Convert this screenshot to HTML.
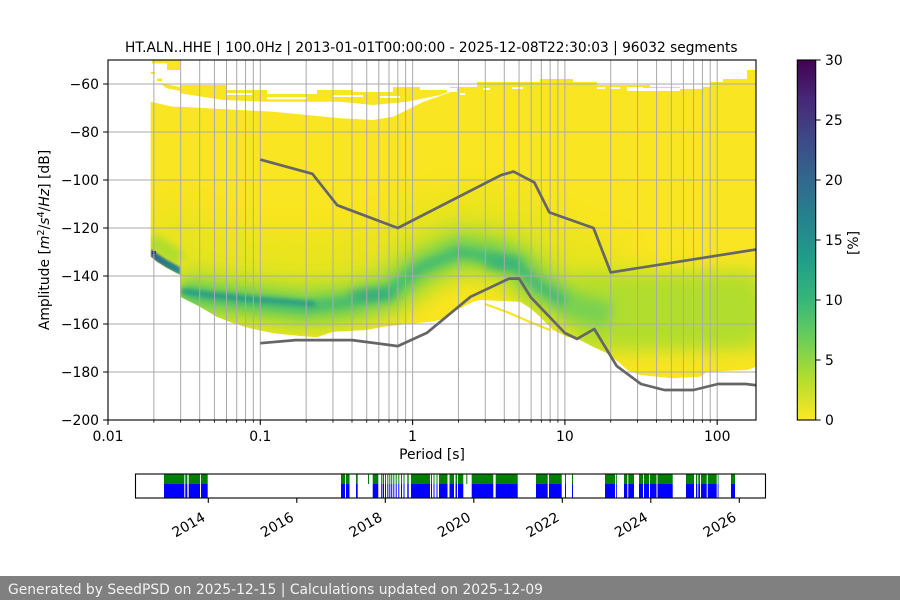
<!DOCTYPE html>
<html><head><meta charset="utf-8"><style>
html,body{margin:0;padding:0;background:#fff;width:900px;height:600px;overflow:hidden}
svg{display:block}
text{font-family:"DejaVu Sans","Liberation Sans",sans-serif;fill:#000}
</style></head><body>
<svg width="900" height="600" viewBox="0 0 900 600" xmlns="http://www.w3.org/2000/svg">
<defs>
<clipPath id="env"><polygon points="150.7,101.7 173,106.7 180,106.7 180,85 227,85 227,90 267,90 267,94 317,94 317,90 353,90 353,92 393,92 393,87 420,87 420,90 450,90 450,87 477,87 477,82 540,82 540,79 573,79 573,82 597,82 597,85 650,85 650,87 710,87 710,82 723,82 723,79 747,79 747,70 756,70 756,366.7 747,370 707,371.7 700,376.7 673,378.3 640,375 627,370 620,363.3 607,353.3 593,346.7 580,340 567,336.7 553,330 540,316.7 530,308 520,301.7 480,300 473,301.7 456.7,310 440,320 430,321.7 400,325 383.3,326.7 366.7,330 333.3,331.7 316.7,337.3 300,336 273.3,333.3 250,328.3 233.3,323.3 216.7,316.7 200,306.7 186.7,300 180,296.7 180,275 166.7,268 156.7,261.7 150.7,256.7"/></clipPath>
<clipPath id="ax"><rect x="108" y="60" width="648" height="360"/></clipPath>
<filter id="f1" filterUnits="userSpaceOnUse" x="0" y="0" width="900" height="600"><feGaussianBlur stdDeviation="1"/></filter>
<filter id="f2" filterUnits="userSpaceOnUse" x="0" y="0" width="900" height="600"><feGaussianBlur stdDeviation="2"/></filter>
<filter id="f4" filterUnits="userSpaceOnUse" x="0" y="0" width="900" height="600"><feGaussianBlur stdDeviation="4"/></filter>
<filter id="f6" filterUnits="userSpaceOnUse" x="0" y="0" width="900" height="600"><feGaussianBlur stdDeviation="6"/></filter>
<filter id="f10" filterUnits="userSpaceOnUse" x="0" y="0" width="900" height="600"><feGaussianBlur stdDeviation="10"/></filter>
<filter id="f16" filterUnits="userSpaceOnUse" x="0" y="0" width="900" height="600"><feGaussianBlur stdDeviation="16"/></filter>
<linearGradient id="cb" x1="0" y1="0" x2="0" y2="1">
<stop offset="0" stop-color="#440154"/><stop offset="0.111" stop-color="#482878"/><stop offset="0.222" stop-color="#3e4989"/><stop offset="0.333" stop-color="#31688e"/><stop offset="0.444" stop-color="#26828e"/><stop offset="0.556" stop-color="#1f9e89"/><stop offset="0.667" stop-color="#35b779"/><stop offset="0.778" stop-color="#6ece58"/><stop offset="0.889" stop-color="#b5de2b"/><stop offset="1" stop-color="#fde725"/>
</linearGradient>
<linearGradient id="ls" x1="0" y1="0" x2="1" y2="0">
<stop offset="0" stop-color="#3b528b"/><stop offset="0.3" stop-color="#2c718e"/><stop offset="1" stop-color="#2a8a8c"/>
</linearGradient>
</defs>

<!-- Title -->
<text x="125" y="52" font-size="13.9" textLength="612.5" lengthAdjust="spacingAndGlyphs">HT.ALN..HHE | 100.0Hz | 2013-01-01T00:00:00 - 2025-12-08T22:30:03 | 96032 segments</text>

<!-- Heatmap -->
<g clip-path="url(#env)">
  <rect x="100" y="60" width="660" height="330" fill="#f9e521"/>
  <path d="M150,232 L200,258 L260,270 L330,272 L385,262 L420,242 L460,228 L500,232 L540,252 L580,272 L620,280" stroke="#e2e41b" stroke-width="70" fill="none" opacity="0.8" filter="url(#f16)"/>
  <path d="M575,312 L760,310" stroke="#b5de2b" stroke-width="78" fill="none" filter="url(#f10)"/>
  <path d="M151,240 L180,260" stroke="#b0dd2f" stroke-width="16" fill="none" filter="url(#f4)"/>
  <path d="M181,292 L220,298 L266,303 L305,307 L350,303 L390,292 L420,268 L459,250 L490,254 L517,263 L536,283 L575,307 L620,312 L700,312 L760,310" stroke="#b0dd2f" stroke-width="50" fill="none" filter="url(#f10)"/>
  <path d="M181,292 L220,298 L266,303 L305,307 L350,303 L390,292 L420,268 L459,250 L490,254 L517,263 L536,283 L575,307 L610,315" stroke="#7ad151" stroke-width="26" fill="none" filter="url(#f6)"/>
  <path d="M183,292 L220,298 L266,303 L305,307 L350,302 L390,291 L420,268 L459,252 L490,257 L517,266 L536,284 L565,302" stroke="#42bb72" stroke-width="11" fill="none" opacity="0.9" filter="url(#f4)"/>
  <ellipse cx="372" cy="295" rx="24" ry="6" fill="#2fa883" opacity="0.7" filter="url(#f4)"/>
  <ellipse cx="503" cy="263" rx="20" ry="8" fill="#35b47a" opacity="0.7" filter="url(#f4)"/>
  <path d="M181,291 L210,295 L250,299 L290,302 L315,304" stroke="#23978a" stroke-width="5" fill="none" opacity="0.9" filter="url(#f2)"/>
  <polygon points="150.7,249 157,253.5 167,260 180,267 180,275 166.7,268 156.7,261.7 150.7,256.7" fill="url(#ls)" filter="url(#f1)"/>
  <rect x="152" y="251" width="4" height="3" fill="#2d3f6b"/>
  <!-- white gap -->
  <polygon points="180,93.3 223,100 267,101.7 340,101.7 373,105 407,101.7 440,95 456,89 456,90 440,96 423,102 407,110 393,116.7 373,120 340,118.3 307,115 273,111.7 240,110 207,108.3 180,106.7" fill="#fff"/>
  <g fill="#fff">
    <rect x="227" y="93" width="25" height="2"/><rect x="240" y="88" width="18" height="2"/>
    <rect x="267" y="97" width="40" height="2.3"/><rect x="333" y="95" width="30" height="2"/>
    <rect x="380" y="96" width="20" height="2"/><rect x="447" y="88" width="10" height="4"/>
    <rect x="460" y="93" width="5" height="2"/><rect x="483" y="88" width="7" height="2"/>
    <rect x="512" y="87" width="11" height="2"/><rect x="597" y="87" width="8" height="2"/>
    <rect x="610" y="87" width="10" height="2"/><rect x="627" y="87" width="16" height="4"/>
    <rect x="643" y="88" width="37" height="3"/><rect x="680" y="87" width="23" height="2"/>
  </g>
</g>
<!-- streak and fragments -->
<path d="M485,304 L507,312 L530,322 L550,330" stroke="#f9e521" stroke-width="2.2" fill="none"/>
<g fill="#f9e521">
  <rect x="152" y="60.5" width="28" height="3"/><rect x="167" y="60.5" width="13" height="9.5"/>
  <rect x="151" y="72" width="4" height="2"/><rect x="157" y="78.5" width="5" height="2.5"/>
  <polygon points="160,83 180,87 180,91 166,88"/>
</g>

<!-- Grid -->
<g stroke="#aaaaaa" stroke-width="1" fill="none">
  <path d="M108,84H756M108,132H756M108,180H756M108,228H756M108,276H756M108,324H756M108,372H756"/>
  <path d="M153.85,60V420M180.67,60V420M199.69,60V420M214.45,60V420M226.51,60V420M236.71,60V420M245.54,60V420M253.33,60V420M260.3,60V420M306.15,60V420M332.97,60V420M351.99,60V420M366.75,60V420M378.81,60V420M389.01,60V420M397.84,60V420M405.63,60V420M412.6,60V420M458.45,60V420M485.27,60V420M504.29,60V420M519.05,60V420M531.11,60V420M541.31,60V420M550.14,60V420M557.93,60V420M564.9,60V420M610.75,60V420M637.57,60V420M656.59,60V420M671.35,60V420M683.41,60V420M693.61,60V420M702.44,60V420M710.23,60V420M717.2,60V420"/>
</g>

<!-- Noise models -->
<g clip-path="url(#ax)" stroke="#666666" stroke-width="2.7" fill="none" stroke-linejoin="round">
  <polyline points="260.3,343.2 295.4,340.1 352.0,340.1 397.8,346.1 426.8,332.9 470.5,296.8 509.1,278.6 519.1,278.6 531.1,297.6 564.9,333.0 577.0,338.9 594.3,329.0 616.7,366.0 641.0,384 664.4,390 693.6,390 717.9,384 745.8,384 796,390"/>
  <polyline points="260.3,159.6 312.4,173.8 337.2,205.2 397.8,228 500.9,175.2 513.5,171.6 534.3,182.4 549.3,212.4 593.5,228 610.7,272.4 801,242.4"/>
</g>

<!-- Axes frame -->
<rect x="108" y="60" width="648" height="360" fill="none" stroke="#000" stroke-width="1.1"/>
<g stroke="#000" stroke-width="1.1">
  <path d="M108,420V424.9M260.3,420V424.9M412.6,420V424.9M564.9,420V424.9M717.2,420V424.9"/>
  <path d="M103.1,84H108M103.1,132H108M103.1,180H108M103.1,228H108M103.1,276H108M103.1,324H108M103.1,372H108M103.1,420H108"/>
</g>
<g stroke="#000" stroke-width="0.8">
  <path d="M153.85,420V422.8M180.67,420V422.8M199.69,420V422.8M214.45,420V422.8M226.51,420V422.8M236.71,420V422.8M245.54,420V422.8M253.33,420V422.8M306.15,420V422.8M332.97,420V422.8M351.99,420V422.8M366.75,420V422.8M378.81,420V422.8M389.01,420V422.8M397.84,420V422.8M405.63,420V422.8M458.45,420V422.8M485.27,420V422.8M504.29,420V422.8M519.05,420V422.8M531.11,420V422.8M541.31,420V422.8M550.14,420V422.8M557.93,420V422.8M610.75,420V422.8M637.57,420V422.8M656.59,420V422.8M671.35,420V422.8M683.41,420V422.8M693.61,420V422.8M702.44,420V422.8M710.23,420V422.8"/>
</g>
<g font-size="13.9" text-anchor="middle">
  <text x="108" y="441">0.01</text><text x="260.3" y="441">0.1</text><text x="412.6" y="441">1</text><text x="564.9" y="441">10</text><text x="717.2" y="441">100</text>
  <text x="432" y="459">Period [s]</text>
</g>
<g font-size="13.9" text-anchor="end">
  <text x="99" y="89">−60</text><text x="99" y="137">−80</text><text x="99" y="185">−100</text><text x="99" y="233">−120</text><text x="99" y="281">−140</text><text x="99" y="329">−160</text><text x="99" y="377">−180</text><text x="99" y="425">−200</text>
</g>
<text transform="translate(49,240) rotate(-90)" font-size="13.9" text-anchor="middle">Amplitude [<tspan font-style="italic">m</tspan><tspan font-size="9.7" dy="-5">2</tspan><tspan dy="5">/</tspan><tspan font-style="italic">s</tspan><tspan font-size="9.7" dy="-5">4</tspan><tspan dy="5">/</tspan><tspan font-style="italic">Hz</tspan>] [dB]</text>

<!-- Colorbar -->
<rect x="797.3" y="60" width="18.4" height="360" fill="url(#cb)" stroke="#000" stroke-width="1.1"/>
<g stroke="#000" stroke-width="1.1"><path d="M815.7,60H820.6M815.7,120H820.6M815.7,180H820.6M815.7,240H820.6M815.7,300H820.6M815.7,360H820.6M815.7,420H820.6"/></g>
<g font-size="13.9">
  <text x="825" y="65">30</text><text x="825" y="125">25</text><text x="825" y="185">20</text><text x="825" y="245">15</text><text x="825" y="305">10</text><text x="825" y="365">5</text><text x="825" y="425">0</text>
</g>
<text transform="translate(858,243) rotate(-90)" font-size="13.9" text-anchor="middle">[%]</text>

<!-- Timeline -->
<g fill="#008000">
<rect x="164" y="474" width="20.3" height="10"/><rect x="185.3" y="474" width="2" height="10"/><rect x="188.7" y="474" width="11.3" height="10"/><rect x="201" y="474" width="6.7" height="10"/>
<rect x="341" y="474" width="4" height="10"/><rect x="346" y="474" width="3.5" height="10"/><rect x="356" y="474" width="1.7" height="10"/><rect x="368" y="474" width="1" height="10"/><rect x="372.7" y="474" width="5.6" height="10"/>
<rect x="381.2" y="474" width="1.2" height="10"/><rect x="383" y="474" width="1" height="10"/><rect x="385" y="474" width="1" height="10"/><rect x="387.3" y="474" width="1" height="10"/><rect x="389.3" y="474" width="1" height="10"/><rect x="391.2" y="474" width="1" height="10"/><rect x="393.3" y="474" width="1" height="10"/><rect x="395.7" y="474" width="1" height="10"/><rect x="398.3" y="474" width="1" height="10"/><rect x="401" y="474" width="1" height="10"/><rect x="403.5" y="474" width="1" height="10"/><rect x="407.3" y="474" width="1.4" height="10"/>
<rect x="411" y="474" width="19" height="10"/><rect x="431" y="474" width="1" height="10"/><rect x="433.5" y="474" width="1" height="10"/><rect x="436.5" y="474" width="1" height="10"/><rect x="439" y="474" width="8.5" height="10"/><rect x="449.5" y="474" width="4.5" height="10"/><rect x="455.5" y="474" width="1.5" height="10"/><rect x="458" y="474" width="5.3" height="10"/><rect x="466.3" y="474" width="1" height="10"/>
<rect x="471.7" y="474" width="21.6" height="10"/><rect x="495.7" y="474" width="22" height="10"/><rect x="536" y="474" width="11.7" height="10"/><rect x="549" y="474" width="12.7" height="10"/><rect x="565" y="474" width="1" height="10"/><rect x="572" y="474" width="1" height="10"/>
<rect x="605" y="474" width="10" height="10"/><rect x="616" y="474" width="0.8" height="10"/><rect x="624" y="474" width="3.3" height="10"/><rect x="628.3" y="474" width="5.7" height="10"/><rect x="639" y="474" width="4" height="10"/><rect x="644" y="474" width="5" height="10"/><rect x="650" y="474" width="6.5" height="10"/><rect x="657.5" y="474" width="15.2" height="10"/>
<rect x="686" y="474" width="8" height="10"/><rect x="696" y="474" width="1.3" height="10"/><rect x="698.3" y="474" width="1.7" height="10"/><rect x="701" y="474" width="5.7" height="10"/><rect x="707.7" y="474" width="9" height="10"/><rect x="717.7" y="474" width="0.8" height="10"/><rect x="731" y="474" width="4" height="10"/>
</g>
<g fill="#0000ff">
<rect x="164" y="484" width="20.3" height="14"/><rect x="185.3" y="484" width="2" height="14"/><rect x="188.7" y="484" width="11.3" height="14"/><rect x="201" y="484" width="6.7" height="14"/>
<rect x="341" y="484" width="4" height="14"/><rect x="346" y="484" width="3.5" height="14"/><rect x="356" y="484" width="1.7" height="14"/><rect x="372.7" y="484" width="5.6" height="14"/>
<rect x="381.2" y="484" width="1.2" height="14"/><rect x="383" y="484" width="1" height="14"/><rect x="385" y="484" width="1" height="14"/><rect x="387.3" y="484" width="1" height="14"/><rect x="389.3" y="484" width="1" height="14"/><rect x="391.2" y="484" width="1" height="14"/><rect x="393.3" y="484" width="1" height="14"/><rect x="395.7" y="484" width="1" height="14"/><rect x="398.3" y="484" width="1" height="14"/><rect x="401" y="484" width="1" height="14"/><rect x="403.5" y="484" width="1" height="14"/><rect x="407.3" y="484" width="1.4" height="14"/>
<rect x="411" y="484" width="19" height="14"/><rect x="431" y="484" width="1" height="14"/><rect x="433.5" y="484" width="1" height="14"/><rect x="436.5" y="484" width="1" height="14"/><rect x="439" y="484" width="8.5" height="14"/><rect x="449.5" y="484" width="4.5" height="14"/><rect x="455.5" y="484" width="1.5" height="14"/><rect x="458" y="484" width="5.3" height="14"/>
<rect x="471.7" y="484" width="21.6" height="14"/><rect x="495.7" y="484" width="22" height="14"/><rect x="536" y="484" width="11.7" height="14"/><rect x="549" y="484" width="12.7" height="14"/><rect x="565" y="484" width="1" height="14"/><rect x="572" y="484" width="1" height="14"/>
<rect x="605" y="484" width="10" height="14"/><rect x="616" y="484" width="0.8" height="14"/><rect x="624" y="484" width="3.3" height="14"/><rect x="628.3" y="484" width="5.7" height="14"/><rect x="639" y="484" width="4" height="14"/><rect x="644" y="484" width="5" height="14"/><rect x="650" y="484" width="6.5" height="14"/><rect x="657.5" y="484" width="15.2" height="14"/>
<rect x="686" y="484" width="8" height="14"/><rect x="696" y="484" width="1.3" height="14"/><rect x="698.3" y="484" width="1.7" height="14"/><rect x="701" y="484" width="5.7" height="14"/><rect x="707.7" y="484" width="9" height="14"/><rect x="717.7" y="484" width="0.8" height="14"/><rect x="731" y="484" width="4" height="14"/>
</g>
<rect x="135.5" y="474" width="630" height="24" fill="none" stroke="#000" stroke-width="1.1"/>
<g stroke="#000" stroke-width="1.1"><path d="M208.3,498V502.9M296.8,498V502.9M385.3,498V502.9M473.8,498V502.9M562.3,498V502.9M650.8,498V502.9M739.3,498V502.9"/></g>
<g font-size="13.9" text-anchor="end">
  <text transform="translate(206.3,520) rotate(-30)">2014</text>
  <text transform="translate(294.8,520) rotate(-30)">2016</text>
  <text transform="translate(383.3,520) rotate(-30)">2018</text>
  <text transform="translate(471.8,520) rotate(-30)">2020</text>
  <text transform="translate(560.3,520) rotate(-30)">2022</text>
  <text transform="translate(648.8,520) rotate(-30)">2024</text>
  <text transform="translate(737.3,520) rotate(-30)">2026</text>
</g>

<!-- Footer -->
<rect x="0" y="576" width="900" height="24" fill="#808080"/>
<text x="8" y="594" font-size="13.9" style="fill:#f2f2f2" textLength="535" lengthAdjust="spacingAndGlyphs">Generated by SeedPSD on 2025-12-15 | Calculations updated on 2025-12-09</text>
</svg>
</body></html>
